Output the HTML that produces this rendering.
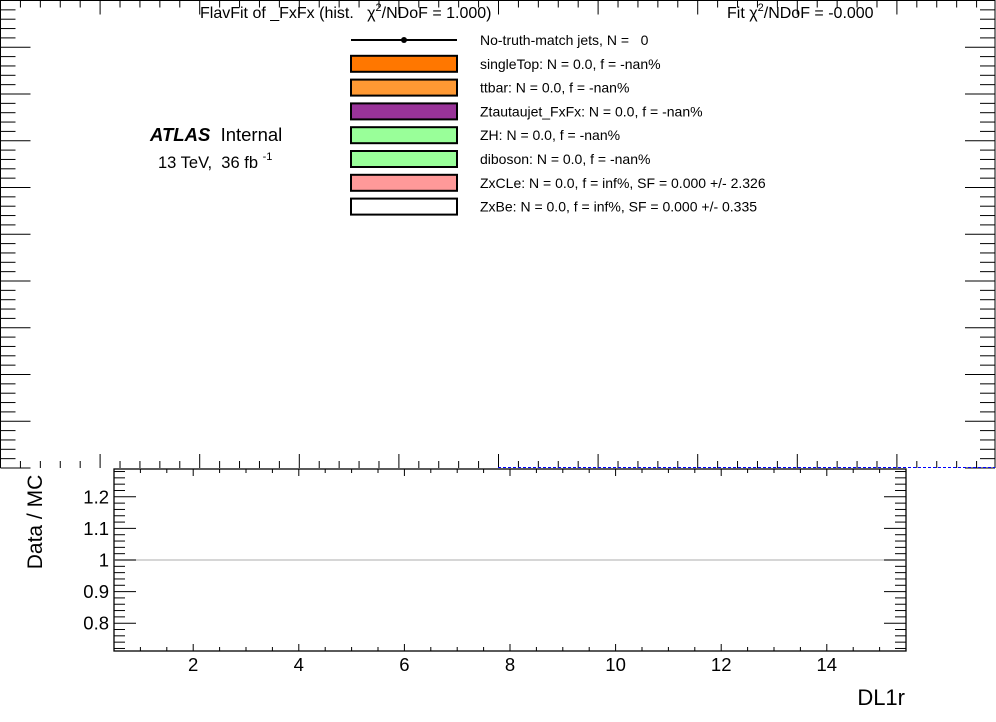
<!DOCTYPE html>
<html><head><meta charset="utf-8"><style>
html,body{margin:0;padding:0;background:#fff;}
svg{display:block;font-family:"Liberation Sans",Arial,sans-serif;}
text{white-space:pre;}
</style></head><body>
<svg id="chart" width="996" height="722" viewBox="0 0 996 722">
<g id="main"></g>
<g id="ratio"></g>
<text x="200" y="18" font-size="16" xml:space="preserve">FlavFit of _FxFx (hist.   χ<tspan dy="-7" font-size="11">2</tspan><tspan dy="7">/NDoF = 1.000)</tspan></text>
<text x="727" y="18" font-size="16" xml:space="preserve">Fit χ<tspan dy="-7" font-size="11">2</tspan><tspan dy="7">/NDoF = -0.000</tspan></text>
<text x="150" y="141" font-size="18.5" xml:space="preserve"><tspan font-weight="bold" font-style="italic">ATLAS</tspan>  Internal</text>
<text x="158" y="168" font-size="16.5" xml:space="preserve">13 TeV,  36 fb <tspan dy="-8" font-size="11">-1</tspan></text>
<g id="legend"></g>
<text x="42" y="522" font-size="21" transform="rotate(-90 42 522)" text-anchor="middle">Data / MC</text>
<text x="905" y="705" font-size="22" text-anchor="end">DL1r</text>
</svg>
<script>
const ratioXTicks = [2,4,6,8,10,12,14];
const ratioYTicks = [0.8,0.9,1.0,1.1,1.2];
const ratioYTickLabels = ["0.8","0.9","1","1.1","1.2"];
const ratioRefValue = [1.0];
const legendLabels = ["No-truth-match jets, N =   0","singleTop: N = 0.0, f = -nan%","ttbar: N = 0.0, f = -nan%","Ztautaujet_FxFx: N = 0.0, f = -nan%","ZH: N = 0.0, f = -nan%","diboson: N = 0.0, f = -nan%","ZxCLe: N = 0.0, f = inf%, SF = 0.000 +/- 2.326","ZxBe: N = 0.0, f = inf%, SF = 0.000 +/- 0.335"];
const legendColors = [null,"#ff7700","#ff9933","#993399","#99ff99","#99ff99","#ff9999","#ffffff"];

const NS="http://www.w3.org/2000/svg";
function mk(tag,attrs,parent){const e=document.createElementNS(NS,tag);for(const k in attrs)e.setAttribute(k,attrs[k]);parent.appendChild(e);return e;}
const main=document.getElementById('main'), ratio=document.getElementById('ratio'), legend=document.getElementById('legend');

const mL=0.5,mR=995,mT=0.5,mB=468;
let f=mk('path',{d:`M${mL},${mB} L${mL},${mT} L${mR},${mT} L${mR},${mB}`,fill:'none',stroke:'#000','stroke-width':1},main);


for(let i=0;i<=50;i++){const y=mT+i*(mB-mT)/50;const len=(i%5==0)?30:15;
 let t=mk('line',{x1:mL,x2:mL+len,y1:y,y2:y,stroke:'#000'},main);
 
 
 let t2=mk('line',{x1:mR,x2:mR-len,y1:y,y2:y,stroke:'#000'},main);
 
 }
for(let i=0;i<=50;i++){const x=mL+i*19.92;if(x>mR)break;const len=(i%5==0)?14:7;
 let t=mk('line',{x1:x,x2:x,y1:mT,y2:mT+len,stroke:'#000'},main);
 
 
 let t2=mk('line',{x1:x,x2:x,y1:mB,y2:mB-len,stroke:'#000'},main);
 
 }
let bl=mk('line',{x1:498,x2:995,y1:467.5,y2:467.5,stroke:'#0000ff','stroke-dasharray':'3,2','stroke-width':1},main);



const rL=114,rR=906,rT=469,rB=651, xMin=0.5,xMax=15.5,yMin=0.712,yMax=1.288;
const X=v=>rL+(v-xMin)/(xMax-xMin)*(rR-rL);
const Y=v=>rB-(v-yMin)/(yMax-yMin)*(rB-rT);
let rf=mk('rect',{x:rL,y:rT,width:rR-rL,height:rB-rT,fill:'none',stroke:'#000','stroke-width':1.3},ratio);


ratioRefValue.forEach(v=>{let l=mk('line',{x1:rL,x2:rR,y1:Y(v),y2:Y(v),stroke:'#c8c8c8','stroke-width':1.5},ratio);
 
 });
for(let v=0.72;v<1.285;v+=0.02){const vv=Math.round(v*100)/100;const maj=ratioYTicks.some(t=>Math.abs(t-vv)<1e-6);const len=maj?22:11;
 let t=mk('line',{x1:rL,x2:rL+len,y1:Y(vv),y2:Y(vv),stroke:'#000'},ratio);
 
 
 let t2=mk('line',{x1:rR,x2:rR-len,y1:Y(vv),y2:Y(vv),stroke:'#000'},ratio);
 
 }
ratioYTicks.forEach((v,i)=>{let t=mk('text',{x:rL-5,y:Y(v)+6.5,'font-size':18.5,'text-anchor':'end'},ratio);t.textContent=ratioYTickLabels[i];
 
 });
for(let v=1;v<=15;v+=0.5){const maj=ratioXTicks.includes(v);const len=maj?7:4;
 let t=mk('line',{x1:X(v),x2:X(v),y1:rB,y2:rB-len,stroke:'#000'},ratio);
 
 
 let t2=mk('line',{x1:X(v),x2:X(v),y1:rT,y2:rT+len,stroke:'#000'},ratio);
 
 }
ratioXTicks.forEach(v=>{let t=mk('text',{x:X(v),y:671,'font-size':18.5,'text-anchor':'middle'},ratio);t.textContent=String(v);
 
 });

legendLabels.forEach((lab,i)=>{const cy=40+i*23.8;
 if(legendColors[i]===null){
  let l=mk('line',{x1:351,x2:457,y1:cy,y2:cy,stroke:'#000','stroke-width':2},legend);
  
  
  let c=mk('circle',{cx:404,cy:cy,r:3,fill:'#000'},legend);
  
  
 } else {
  let r=mk('rect',{x:351,y:cy-8,width:106,height:16,fill:legendColors[i],stroke:'#000','stroke-width':2},legend);
  
  
 }
 let t=mk('text',{x:480,y:cy+5,'font-size':14},legend);t.textContent=lab;
 
 
});
</script>
</body></html>
